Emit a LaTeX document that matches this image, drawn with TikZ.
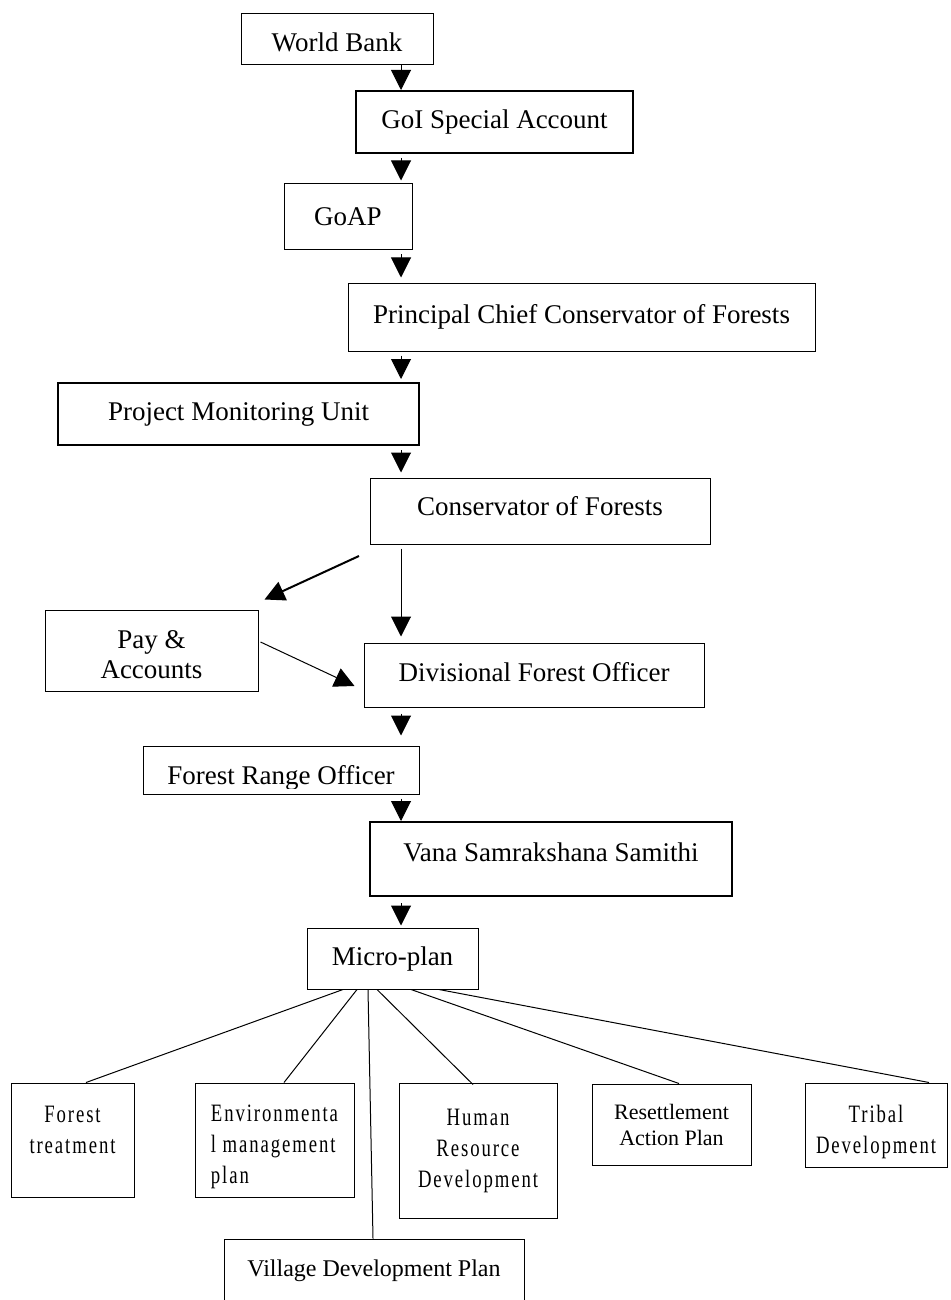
\documentclass[tikz,border=0pt]{standalone}
\usepackage{fontspec}
\setmainfont{Liberation Serif}
\newfontfamily\narrowfont[FakeStretch=0.75,LetterSpace=7.6]{Liberation Serif}
\usetikzlibrary{arrows.meta,calc}

\begin{document}
\begin{tikzpicture}[x=0.5pt, y=-0.5pt, >={Triangle[length=10pt,width=10pt]}, line width=0.5pt,
    font=\fontsize{13.5}{15}\selectfont,
    box/.style={draw, inner sep=0pt, align=center},
    heavy/.style={box, line width=1pt},
    leaf/.style={box, font=\narrowfont\fontsize{12.5}{15.5}\selectfont},
    link/.style={->, shorten <=2pt, shorten >=1.5pt}]
    \clip (0,0) rectangle (950,1300);
    \coordinate (spine) at (401,0);

    \node[box, minimum width=96pt, minimum height=25.5pt, text height=12.5pt] (wb) at (337,39.5) {World Bank};
    \node[heavy, minimum width=138.5pt, minimum height=31pt] (goi) at (494.5,122) {GoI Special Account};
    \node[box, minimum width=64pt, minimum height=33pt] (goap) at (348,217) {GoAP};
    \node[box, minimum width=233.5pt, minimum height=34pt] (pccf) at (581.5,317) {Principal Chief Conservator of Forests};
    \node[heavy, minimum width=180.5pt, minimum height=31pt] (pmu) at (238.5,414) {Project Monitoring Unit};
    \node[box, minimum width=170pt, minimum height=33pt, text depth=5pt] (cof) at (540,511) {Conservator of Forests};
    \node[box, minimum width=106.5pt, minimum height=40.5pt, text height=27.5pt, text depth=0pt] (pay) at (151.5,650.5) {Pay \&\\Accounts};
    \node[box, minimum width=170pt, minimum height=32pt, text depth=3pt] (dfo) at (534,675) {Divisional Forest Officer};
    \node[box, minimum width=138pt, minimum height=24pt] (fro) at (281,770) {};
    \begin{scope}
        \clip (fro.north west) rectangle ($(fro.south east)+(0,-6)$);
        \node[anchor=base] (frotext) at (281,784) {Forest Range Officer};
    \end{scope}
    \node[heavy, minimum width=181pt, minimum height=37pt, text depth=7.2pt] (vss) at (551,859) {Vana Samrakshana Samithi};
    \node[box, minimum width=85.5pt, minimum height=30.5pt] (mp) at (392.5,958.5) {Micro-plan};

    % components of the micro-plan
    \node[leaf, minimum width=61.5pt, minimum height=57pt, text height=13pt, text depth=0pt] (ft) at (72.5,1140) {Forest\\treatment};
    \node[leaf, align=left, minimum width=79.5pt, minimum height=57pt, text height=45.7pt, text depth=2.7pt] (env) at (274.5,1140) {Environmenta\\l management\\plan};
    \node[box, minimum width=150pt, minimum height=31.5pt, font=\fontsize{12}{14}\selectfont] (vdp) at (374,1270.5) {Village Development Plan};
    \node[leaf, minimum width=79pt, minimum height=67.5pt] (hrd) at (478,1150.5) {Human\\Resource\\Development};
    \node[box, minimum width=79.5pt, minimum height=40.5pt, font=\fontsize{11}{13}\selectfont] (rap) at (671.5,1124.5) {Resettlement\\Action Plan};
    \node[leaf, minimum width=71pt, minimum height=42pt, text height=30.7pt, text depth=2.7pt] (tri) at (876,1125) {Tribal\\Development};

    % flow of funds
    \draw[->] (wb.south -| spine) -- (goi.north -| spine);
    \draw[link] (goi.south -| spine) -- (goap.north -| spine);
    \draw[link, shorten >=2.5pt] (goap.south -| spine) -- (pccf.north -| spine);
    \draw[link] (pccf.south -| spine) -- (pmu.north -| spine);
    \draw[link, shorten >=2.5pt] (pmu.south -| spine) -- (cof.north -| spine);
    \draw[link, shorten >=3pt] (cof.south -| spine) -- (dfo.north -| spine);
    \draw[link, shorten <=3pt, shorten >=5pt] (dfo.south -| spine) -- (fro.north -| spine);
    \draw[link, shorten >=0pt] (fro.south -| spine) -- (vss.north -| spine);
    \draw[link, shorten <=3pt, shorten >=1pt] (vss.south -| spine) -- (mp.north -| spine);

    \coordinate (fork) at (359,556);
    \draw[->, line width=1pt] (fork) -- ($(pay.north east)+(6,-10)$);
    \draw[->] ($(pay.east)+(2,-8.5)$) -- ($(dfo.west)+(-9,11)$);

    \draw ($(mp.south)+(-49.5,0)$) -- ($(ft.north)+(13.5,0)$);
    \draw ($(mp.south)+(-35.5,0)$) -- ($(env.north)+(9.5,0)$);
    \draw ($(mp.south)+(-24.5,0)$) -- ($(vdp.north)+(-1,0)$);
    \draw ($(mp.south)+(-15.5,0)$) -- ($(hrd.north)+(-5,2)$);
    \draw ($(mp.south)+(18.5,0)$) -- ($(rap.north)+(7.5,0)$);
    \draw ($(mp.south)+(46.5,0)$) -- ($(tri.north)+(53,0)$);
\end{tikzpicture}
\end{document}
